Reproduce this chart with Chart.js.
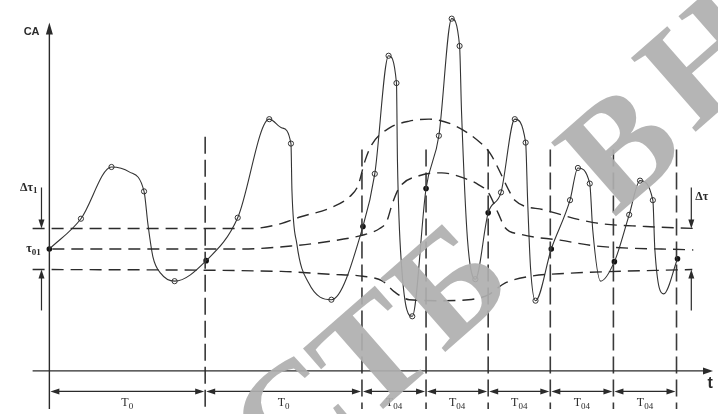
<!DOCTYPE html>
<html>
<head>
<meta charset="utf-8">
<script src="https://cdn.jsdelivr.net/npm/chart.js@4.4.1/dist/chart.umd.min.js"></script>
<style>
  html, body { margin: 0; padding: 0; background: #fff; }
  #wrap { width: 718px; height: 414px; position: relative; }
</style>
</head>
<body>
<div id="wrap"><canvas id="c"></canvas></div>
<script>
// Time t is measured from the CA axis, CA upward from the t axis.

// Period boundaries along t and their labels (symbol, subscript)
const periodBounds = [0, 158, 317, 382, 445, 508, 572, 636];
const periodLabels = [['T', '0'], ['T', '0'], ['T', '04'], ['T', '04'], ['T', '04'], ['T', '04'], ['T', '04']];

// Reference levels: upper tolerance, nominal τ₀₁, lower tolerance
const levelTop = 146;
const levelRef = 125;
const levelLow = 104;

// Measured CA curve (t, CA); mark: 'd' = sample at period start, 'o' = intermediate sample
const curveT  = [0, 32, 63, 81, 96, 100, 105, 113, 127, 159, 191, 223, 236, 245, 246, 251, 263, 286,
                 318, 330, 344, 352, 353, 357, 368, 382, 395, 408, 416, 418, 424, 432,
                 445, 458, 472, 483, 485, 488, 493, 509, 528, 536, 548, 551, 559,
                 573, 588, 599, 612, 614, 623, 637];
const curveCA = [125, 156, 209, 204, 184, 150, 117, 100, 92, 113, 157, 258, 249, 233, 185, 130, 90, 73,
                 148, 202, 323, 295, 215, 110, 56, 187, 241, 361, 333, 265, 135, 94,
                 162, 183, 258, 234, 175, 105, 72, 125, 175, 208, 192, 145, 92,
                 112, 160, 195, 175, 125, 79, 115];
const curveMark = ['d', 'o', 'o', '', 'o', '', '', '', 'o', 'd', 'o', 'o', '', 'o', '', '', '', 'o',
                   'd', 'o', 'o', 'o', '', '', 'o', 'd', 'o', 'o', 'o', '', '', 'o',
                   'd', 'o', 'o', 'o', '', '', 'o', 'd', 'o', 'o', 'o', '', '',
                   'd', 'o', 'o', 'o', '', '', 'd'];

// Dashed envelopes of the tolerance band
const upperT  = [-17, 205, 235, 255, 285, 305, 313, 320, 327, 345, 365, 385, 412, 438, 447, 455, 465, 472, 502, 552, 605, 655];
const upperCA = [146, 146, 151, 158, 167, 179, 190, 215, 232, 249, 256, 258, 251, 233, 223, 208, 187, 175, 165, 152, 148, 146];
const midT    = [3, 195, 245, 285, 317, 335, 342, 348, 355, 375, 398, 422, 435, 445, 455, 462, 478, 518, 555, 653];
const midCA   = [125, 125, 128, 133, 139, 146, 153, 172, 188, 200, 203, 197, 191, 183, 162, 147, 140, 134, 128, 124];
const lowerT  = [-17, 235, 285, 318, 338, 350, 365, 395, 425, 445, 462, 488, 525, 652];
const lowerCA = [104, 102, 99, 97, 92, 81, 73, 72, 73, 78, 90, 97, 100, 104];

// Vertical extent of the period divider lines
const dividerTopFirst = 240;
const dividerTop = 227;
const dividerBottom = -39;

const INK = '#2b2b2b';
const pts = (xs, ys) => xs.map((x, i) => ({ x, y: ys[i] }));

const dashedSet = (data, dash) => ({
  data, showLine: true, borderColor: INK, borderWidth: 1.4, borderDash: dash,
  pointRadius: 0, cubicInterpolationMode: 'monotone', fill: false
});

const dividerSets = periodBounds.slice(1).map((b, i) => ({
  data: [{ x: b, y: i === 0 ? dividerTopFirst : dividerTop }, { x: b, y: dividerBottom }],
  showLine: true, borderColor: '#3a3a3a', borderWidth: 1.6, borderDash: [17, 6],
  pointRadius: 0, fill: false
}));

const curve = pts(curveT, curveCA);
const openMarks = curve.filter((p, i) => curveMark[i] === 'o');
const dotMarks = curve.filter((p, i) => curveMark[i] === 'd');

// Axes, arrows, dimension lines and captions
const decor = {
  id: 'decor',
  afterDatasetsDraw(chart) {
    const { ctx } = chart;
    const X = v => chart.scales.x.getPixelForValue(v);
    const Y = v => chart.scales.y.getPixelForValue(v);
    ctx.save();
    ctx.strokeStyle = INK;
    ctx.fillStyle = INK;
    ctx.lineWidth = 1.2;
    ctx.setLineDash([]);

    const head = (x, y, dx, dy, len, hw) => {
      const px = -dy, py = dx;
      ctx.beginPath();
      ctx.moveTo(x, y);
      ctx.lineTo(x - dx * len + px * hw, y - dy * len + py * hw);
      ctx.lineTo(x - dx * len - px * hw, y - dy * len - py * hw);
      ctx.closePath();
      ctx.fill();
    };
    const line = (x1, y1, x2, y2) => {
      ctx.beginPath(); ctx.moveTo(x1, y1); ctx.lineTo(x2, y2); ctx.stroke();
    };
    // symbol with a lowered subscript, centred on (cx, cy)
    const subText = (main, sub, cx, cy, size, weight) => {
      const mainFont = `${weight} ${size}px "Liberation Serif"`;
      const subFont = `${weight} ${Math.round(size * 0.72)}px "Liberation Serif"`;
      ctx.font = mainFont; const wm = ctx.measureText(main).width;
      ctx.font = subFont; const ws = ctx.measureText(sub).width;
      const x0 = cx - (wm + ws) / 2;
      ctx.textAlign = 'left';
      ctx.textBaseline = 'middle';
      ctx.font = mainFont; ctx.fillText(main, x0, cy);
      ctx.font = subFont; ctx.fillText(sub, x0 + wm, cy + size * 0.3);
    };

    // t axis
    line(X(-17), Y(0), X(670), Y(0));
    head(X(673), Y(0), 1, 0, 10, 3.5);
    // CA axis
    ctx.lineWidth = 1.4;
    line(X(0), Y(-39), X(0), Y(350));
    head(X(0), Y(357), 0, -1, 12, 3.5);
    ctx.lineWidth = 1.2;

    // tolerance arrows, left and right
    const aL = X(-8), aR = X(651);
    [aL, aR].forEach(ax => {
      line(ax, Y(levelTop + 42), ax, Y(levelTop + 6));
      head(ax, Y(levelTop), 0, 1, 9, 3);
      line(ax, Y(levelLow - 42), ax, Y(levelLow - 6));
      head(ax, Y(levelLow), 0, -1, 9, 3);
    });

    // period dimension lines
    const yd = Y(-21);
    for (let i = 0; i < periodBounds.length - 1; i++) {
      const a = X(periodBounds[i]) + 1, b = X(periodBounds[i + 1]) - 1;
      line(a + 4, yd, b - 4, yd);
      head(a, yd, -1, 0, 9, 3);
      head(b, yd, 1, 0, 9, 3);
    }
    for (let i = 0; i < periodLabels.length; i++) {
      const cx = (X(periodBounds[i]) + X(periodBounds[i + 1])) / 2;
      subText(periodLabels[i][0], periodLabels[i][1], cx, Y(-33), 12, 'normal');
    }

    // captions
    ctx.textAlign = 'center';
    ctx.textBaseline = 'middle';
    ctx.font = 'bold 11px "Liberation Sans"';
    ctx.fillText('CA', X(-18), Y(347));
    ctx.font = 'bold 16px "Liberation Sans"';
    ctx.fillText('t', X(670), Y(-13));
    subText('Δτ', '1', X(-21), Y(188), 12, 'bold');
    subText('τ', '01', X(-16), Y(levelRef), 12, 'bold');
    ctx.font = 'bold 12px "Liberation Serif"';
    ctx.textAlign = 'left';
    ctx.fillText('Δτ', X(655), Y(178));
    ctx.restore();
  }
};

// Publisher watermark lettering laid over the figure
const watermark = {
  id: 'watermark',
  afterDraw(chart) {
    const { ctx } = chart;
    ctx.save();
    ctx.fillStyle = 'rgba(175,175,175,0.92)';
    ctx.font = 'bold 150px "Liberation Serif"';
    ctx.textAlign = 'center';
    ctx.textBaseline = 'middle';
    [['С', 300, 425], ['Т', 378, 362], ['Б', 455, 292], ['В', 626, 156], ['Н', 712, 66]].forEach(([ch, x, y]) => {
      ctx.save();
      ctx.translate(x, y);
      ctx.rotate(-0.72);
      ctx.fillText(ch, 0, 0);
      ctx.restore();
    });
    ctx.restore();
  }
};

new Chart(document.getElementById('c'), {
  type: 'scatter',
  data: {
    datasets: [
      dashedSet(pts(upperT, upperCA), [12, 7]),
      dashedSet(pts(midT, midCA), [12, 7]),
      dashedSet(pts(lowerT, lowerCA), [12, 7]),
      ...dividerSets,
      {
        data: curve, showLine: true, borderColor: '#333', borderWidth: 1.1,
        pointRadius: 0, cubicInterpolationMode: 'monotone', fill: false
      },
      {
        data: openMarks, showLine: false, pointRadius: 2.6, pointBorderWidth: 1,
        pointBackgroundColor: '#fff', pointBorderColor: '#333'
      },
      {
        data: dotMarks, showLine: false, pointRadius: 2.8, pointBorderWidth: 0,
        pointBackgroundColor: '#111', pointBorderColor: '#111'
      }
    ]
  },
  options: {
    responsive: true,
    maintainAspectRatio: false,
    animation: false,
    layout: { padding: 0 },
    plugins: { legend: { display: false }, tooltip: { enabled: false } },
    scales: {
      x: { type: 'linear', min: -45, max: 673, display: false },
      y: { type: 'linear', min: -39, max: 375, display: false }
    }
  },
  plugins: [decor, watermark]
});
</script>
</body>
</html>
